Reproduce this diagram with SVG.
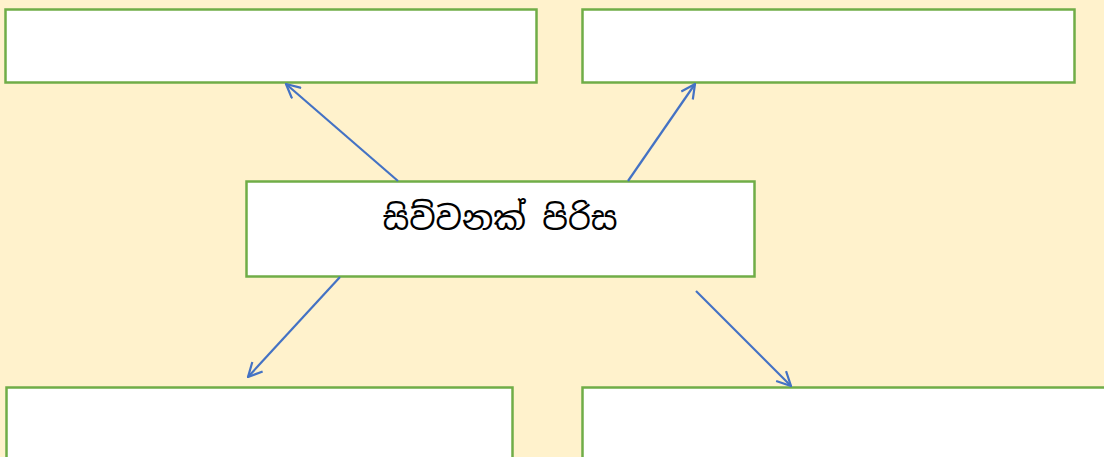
<svg xmlns="http://www.w3.org/2000/svg" width="1104" height="457" viewBox="0 0 1104 457">
  <style>
    .box { fill: #ffffff; stroke: #70AD47; stroke-width: 2.5; }
    .conn { stroke: #4472C4; stroke-width: 2.2; fill: none; marker-end: url(#arrow); }
    .label { font-family: "Noto Sans Sinhala", "Iskoola Pota", "Noto Sans", "DejaVu Sans", sans-serif; font-size: 32.5px; fill: #000000; }
  </style>
  <defs>
    <marker id="arrow" viewBox="0 0 16 16" refX="15" refY="8" markerWidth="16" markerHeight="16" markerUnits="userSpaceOnUse" orient="auto">
      <path d="M1,1 L15,8 L1,15" fill="none" stroke="#4472C4" stroke-width="2.2"/>
    </marker>
  </defs>
  <rect x="0" y="0" width="1104" height="457" fill="#FFF2CC"/>
  <g id="node-top-left">
    <rect class="box" x="5.5" y="9.5" width="531" height="73"/>
  </g>
  <g id="node-top-right">
    <rect class="box" x="582.5" y="9.5" width="492" height="73"/>
  </g>
  <g id="node-center">
    <rect class="box" x="246.5" y="181.5" width="508" height="95"/>
    <text class="label" x="500" y="230" text-anchor="middle">සිව්වනක් පිරිස</text>
  </g>
  <g id="node-bottom-left">
    <rect class="box" x="6.5" y="387.5" width="506" height="75"/>
  </g>
  <g id="node-bottom-right">
    <rect class="box" x="582.5" y="387.5" width="525" height="75"/>
  </g>
  <g id="connectors">
    <line class="conn" x1="398" y1="181" x2="286" y2="84"/>
    <line class="conn" x1="628" y1="181" x2="695" y2="84"/>
    <line class="conn" x1="340" y1="277" x2="248" y2="377"/>
    <line class="conn" x1="696" y1="291" x2="791" y2="386"/>
  </g>
</svg>
